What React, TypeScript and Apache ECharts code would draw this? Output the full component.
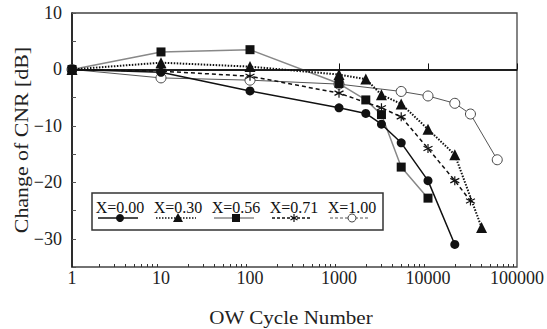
import React, { useEffect, useRef } from "react";
import * as echarts from "echarts";

// OW cycle number (x) vs change of CNR in dB (y)
const S_000: [number, number][] = [[1, 0], [10, -0.5], [100, -3.8], [1000, -6.8], [2000, -7.8], [3000, -9.7], [5000, -13], [10000, -19.7], [20000, -31]];
const S_030: [number, number][] = [[1, 0], [10, 1.2], [100, 0.5], [1000, -0.9], [2000, -1.7], [3000, -4.5], [5000, -6.1], [10000, -10.6], [20000, -15.1], [40000, -28]];
const S_056: [number, number][] = [[1, 0], [10, 3.1], [100, 3.5], [1000, -2.5], [2000, -5.4], [3000, -8.0], [5000, -17.3], [10000, -22.8]];
const S_071: [number, number][] = [[1, 0], [10, -0.3], [100, -1.2], [1000, -4.2], [3000, -6.8], [5000, -8.4], [10000, -14], [20000, -19.7], [30000, -23.3]];
const S_100: [number, number][] = [[1, 0], [10, -1.5], [100, -1.9], [1000, -2.6], [5000, -3.9], [10000, -4.7], [20000, -6.0], [30000, -7.9], [60000, -16]];

const LEGEND_NAMES = ["X=0.00", "X=0.30", "X=0.56", "X=0.71", "X=1.00"];
const MINOR_TICKS = [
  2, 3, 4, 5, 6, 7, 8, 9,
  20, 30, 40, 50, 60, 70, 80, 90,
  200, 300, 400, 500, 600, 700, 800, 900,
  2000, 3000, 4000, 5000, 6000, 7000, 8000, 9000,
  20000, 30000, 40000, 50000, 60000, 70000, 80000, 90000,
];

const FONT = '"Liberation Serif", "DejaVu Serif", serif';
const STAR_PATH = "path://M5,0L5,10M0.7,2.5L9.3,7.5M0.7,7.5L9.3,2.5";

export default function App() {
  const ref = useRef<HTMLDivElement>(null);
  useEffect(() => {
    if (!ref.current) return;
    const chart = echarts.init(ref.current, null, { renderer: "svg" });

    // legend graphics
    const lx0 = 120, dx = 58, ty = 207, sy = 218;
    const legendEls: any[] = [
      { type: "rect", shape: { x: 92, y: 193, width: 291, height: 37 }, style: { fill: "#fff", stroke: "#333", lineWidth: 1.5 } },
    ];
    LEGEND_NAMES.forEach((n, i) => {
      const cx = lx0 + dx * i;
      legendEls.push({ type: "text", x: cx, y: ty, style: { text: n, font: `16px ${FONT}`, fill: "#111", align: "center", verticalAlign: "middle" } });
      const lineStyles = [
        { stroke: "#111", lineWidth: 1.5 },
        { stroke: "#111", lineWidth: 1.5, lineDash: [1.5, 1.5] },
        { stroke: "#888", lineWidth: 1.5 },
        { stroke: "#111", lineWidth: 1.3, lineDash: [3, 2] },
        { stroke: "#555", lineWidth: 1, lineDash: [3, 2] },
      ];
      legendEls.push({ type: "line", shape: { x1: cx - 22, y1: sy, x2: cx + 18, y2: sy }, style: lineStyles[i] });
      if (i === 0) legendEls.push({ type: "circle", shape: { cx, cy: sy, r: 4 }, style: { fill: "#111" } });
      if (i === 1) legendEls.push({ type: "polygon", shape: { points: [[cx, sy - 5], [cx - 5, sy + 4], [cx + 5, sy + 4]] }, style: { fill: "#111" } });
      if (i === 2) legendEls.push({ type: "rect", shape: { x: cx - 4, y: sy - 4, width: 8, height: 8 }, style: { fill: "#111" } });
      if (i === 3) {
        legendEls.push({ type: "line", shape: { x1: cx, y1: sy - 4, x2: cx, y2: sy + 4 }, style: { stroke: "#111", lineWidth: 1.2 } });
        legendEls.push({ type: "line", shape: { x1: cx - 3.5, y1: sy - 2, x2: cx + 3.5, y2: sy + 2 }, style: { stroke: "#111", lineWidth: 1.2 } });
        legendEls.push({ type: "line", shape: { x1: cx - 3.5, y1: sy + 2, x2: cx + 3.5, y2: sy - 2 }, style: { stroke: "#111", lineWidth: 1.2 } });
      }
      if (i === 4) legendEls.push({ type: "circle", shape: { cx, cy: sy, r: 4 }, style: { fill: "#fff", stroke: "#444", lineWidth: 1 } });
    });

    const option: any = {
      animation: false,
      backgroundColor: "#fff",
      grid: { left: 72, right: 27, top: 13, bottom: 62, show: true, borderColor: "#444", borderWidth: 1.3, backgroundColor: "transparent" },
      xAxis: [
        {
          type: "log", logBase: 10, min: 1, max: 100000,
          axisLine: { lineStyle: { color: "#111", width: 1.5 } },
          axisTick: { inside: true, length: 6, lineStyle: { color: "#111" } },
          axisLabel: { fontFamily: FONT, fontSize: 18, color: "#222", margin: 2, formatter: (v: number) => String(Math.round(v)) },
          splitLine: { show: false },
        },
        {
          // decade-exponent axis used only to place the minor log ticks
          type: "value", min: 0, max: 5, position: "bottom",
          axisLine: { show: false },
          axisTick: { show: true, inside: true, length: 3, customValues: MINOR_TICKS.map((v) => Math.log10(v)), lineStyle: { color: "#333" } },
          axisLabel: { show: false },
          splitLine: { show: false },
        },
      ],
      yAxis: {
        type: "value", min: -35, max: 10, interval: 5,
        axisLine: { show: true, lineStyle: { color: "#111", width: 1.5 } },
        axisTick: { show: true, inside: true, length: 4, lineStyle: { color: "#555" } },
        axisLabel: {
          fontFamily: FONT, fontSize: 18, color: "#222", margin: 10,
          formatter: (v: number) => (v % 10 === 0 ? (v < 0 ? "\u2212" + Math.abs(v) : String(v)) : ""),
        },
        splitLine: { show: false },
      },
      graphic: [
        { type: "text", x: 22, y: 140, rotation: Math.PI / 2, scaleX: 1.15, style: { text: "Change of CNR [dB]", font: `19px ${FONT}`, fill: "#222", align: "center", verticalAlign: "middle" } },
        { type: "text", x: 291, y: 318, scaleX: 1.17, style: { text: "OW Cycle Number", font: `18px ${FONT}`, fill: "#222", align: "center", verticalAlign: "middle" } },
        { type: "group", z: 100, children: legendEls },
      ],
      series: [
        {
          type: "line", name: "X=1.00", data: S_100, symbol: "circle", symbolSize: 10,
          lineStyle: { color: "#555", width: 1 }, itemStyle: { color: "#fff", borderColor: "#444", borderWidth: 1 }, z: 2,
          markLine: { silent: true, symbol: "none", label: { show: false }, lineStyle: { color: "#111", width: 1.5, type: "solid" }, data: [{ yAxis: 0 }] },
        },
        {
          type: "line", name: "X=0.56", data: S_056, symbol: "rect", symbolSize: 9,
          lineStyle: { color: "#888", width: 1.5 }, itemStyle: { color: "#111" }, z: 3,
        },
        {
          type: "line", name: "X=0.71", data: S_071, symbol: STAR_PATH, symbolSize: 9,
          lineStyle: { color: "#111", width: 1.5, type: [4, 3] }, itemStyle: { color: "#111", borderColor: "#111", borderWidth: 1.2 }, z: 4,
        },
        {
          type: "line", name: "X=0.30", data: S_030, symbol: "triangle", symbolSize: 11,
          lineStyle: { color: "#111", width: 2, type: [1.5, 1.5] }, itemStyle: { color: "#111" }, z: 5,
        },
        {
          type: "line", name: "X=0.00", data: S_000, symbol: "circle", symbolSize: 9,
          lineStyle: { color: "#111", width: 1.5 }, itemStyle: { color: "#111" }, z: 6,
        },
      ],
    };
    chart.setOption(option);
    return () => chart.dispose();
  }, []);
  return <div ref={ref} style={{ width: 547, height: 329, position: "absolute", left: 0, top: 0 }} />;
}
